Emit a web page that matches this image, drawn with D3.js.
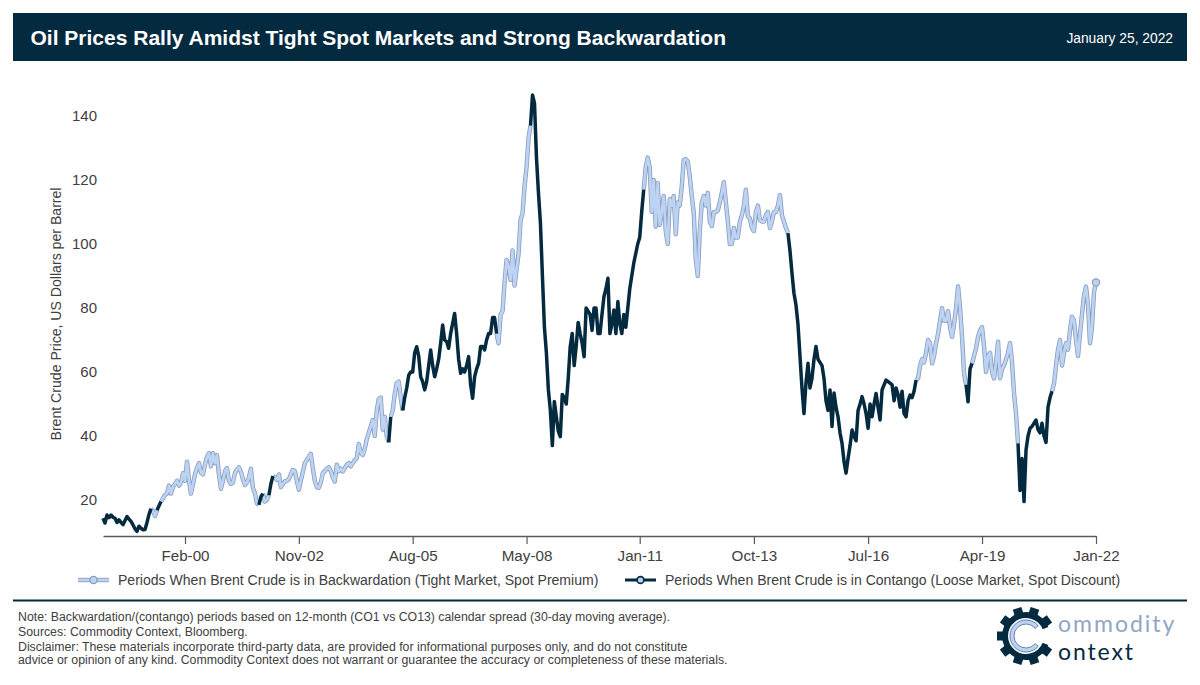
<!DOCTYPE html>
<html>
<head>
<meta charset="utf-8">
<script src="https://d3js.org/d3.v7.min.js"></script>
<style>
  body { margin: 0; background: #fff; }
  text { font-family: "Liberation Sans", Arial, sans-serif; }
</style>
</head>
<body>
<svg class="target" width="1200" height="685"></svg>
<script>

// tick labels and the dates they sit on
tickLabels = ['Feb-00', 'Nov-02', 'Aug-05', 'May-08', 'Jan-11', 'Oct-13', 'Jul-16', 'Apr-19', 'Jan-22']
tickDates = ['2000-02-20', '2002-11-17', '2005-08-14', '2008-05-11', '2011-01-31', '2013-10-31', '2016-07-31', '2019-04-29', '2022-01-25']
startDate = '1998-03-01'
yTicks = [20, 40, 60, 80, 100, 120, 140]

// Brent price, one array per span between x ticks
beforeFeb00 = [14.3,12.8,15.3,14.5,15.3,14.6,14.3,13,13.8,13,12.3,13.6,14.8,14,13.3,12.2,11,10.2,11.8,11.2,10.7,10.8,13,15.5,17.3,16.5,15,16.8,18.2,19.5,20.5,21.6,22,24.5,22,24.2,25,26,24.5,25.5,28.4]
fromFeb00 = [26,32,26,22,25,28,30,31.5,28.5,28,31,33.5,34.6,30.5,34.6,31.5,34,28,23.5,26,29,30,26,25,25.5,28.4,29.5,30.2,28.8,26.5,24.7,25.5,27,29.8,23.7,22.2,19,18.5,21,22,19.5,20,21.5,25,27.5,27,26.3,28,24,25,25.8,26,26.5,28,29.4,29,26]
fromNov02 = [23.2,26,28.8,31.5,32.5,33.5,34.4,30,26,24,23.8,25.5,28.4,29,29.8,30.2,29,27,25.8,31,29,29.8,28.9,30,31,31.5,30.5,31.5,32.5,33,37.5,35,34,36,39,41,43,45,40,48,51.5,52,42,46,40,38,46,48,53,56.5,57,52,48,52,55,59,60]
fromAug05 = [60,66,67.9,65,58.5,57,54.4,57,62,66.9,62,58.5,61,64,69,74.7,70,69.5,67.4,72,75.2,78.3,72,64,59.6,61,60,62,64.8,56,51.8,58.5,61,62.7,68,68,66.9,70,72,72,77,77,72,69,78,79,88,95,93,88.8,98,87,92,97,107.5,109.6,118]
fromMay08 = [124,133,137,146.6,144,127,116,106.5,90,74,66,54.4,48,37,50.8,46,41.5,39.8,53,52,50,58,68,72,62,68,75.5,72,69,64.8,80,79,78,73,80,80,72,72,78,83.6,86,89.3,72,75,79.4,72,82,75,72,78,74,80,86,90,94,97,100]
fromJan11 = [102,110,117,124,127,124,110,120,105.4,119,106,110,115,104,100,114,112,115,103,113,112,118,126.3,126.5,125.8,121,115,109.6,95,90,104,113,115,112,116,107,105.6,110,110,110.5,113,116,119.3,113,107,100,100,105,102,102,107,109,112,117,108.6,108,105]
fromOct13 = [104,110,112,107.5,107,107,109,110,105,107,110,110,112,115.3,109,107,105,103.4,98,91,84.6,81,75,65,55,47,56.5,62.7,55,58,64,68,64,63,62,58,51,48,54.4,43,53.4,49,46,41,37.7,32,28.4,33,37,41.9,40,38.5,48,50,52.3,50,47]
fromJul16 = [42.4,50,46,50,53.3,49,45,54.4,56,57.5,57,56.5,56,51,55,53,49,54,47,46,51,52.8,52,54,57.5,58,62,64,63,66,70,69,62.7,65,69,72,76,79.9,76,76,79,74,71,75,80,86.7,80,71,59.6,56,50.7,61,62.7,65,67.4,71,73]
fromApr19 = [74,68,60,65,66,60,58,63,69.5,58,61,62,64,66,69,63,53.3,47,37.7,23,33,19.5,35.6,40,42.4,43,44,45,42,41,44,40,38,49,52,54,56.5,62,67,70,62,66,69,67,73,77.3,76,70,65,72,78,84,86.7,81,69,74,85]
lastPrice = 88

// contango periods, everything else is backwardation
contangoStart = ['1998-03-01', '1999-06-28', '2001-12-02', '2002-03-01', '2005-01-18', '2005-05-28', '2008-06-15', '2014-09-08', '2018-12-17', '2020-03-20']
contangoEnd   = ['1999-04-30', '1999-08-04', '2002-01-17', '2002-04-05', '2005-02-12', '2007-08-22', '2011-03-24', '2017-10-05', '2019-02-09', '2021-01-04']

legendLabels = ['Periods When Brent Crude is in Backwardation (Tight Market, Spot Premium)', 'Periods When Brent Crude is in Contango (Loose Market, Spot Discount)']
notes = [
  'Note: Backwardation/(contango) periods based on 12-month (CO1 vs CO13) calendar spread (30-day moving average).',
  'Sources: Commodity Context, Bloomberg.',
  'Disclaimer: These materials incorporate third-party data, are provided for informational purposes only, and do not constitute',
  'advice or opinion of any kind. Commodity Context does not warrant or guarantee the accuracy or completeness of these materials.'
]

navy = '#042a3f'
lightBlue = '#bcd3f4'
edgeBlue = '#8a9cba'
textGrey = '#404040'

parse = d3.timeParse('%Y-%m-%d')
edges = [startDate, ...tickDates].map(parse)
spans = [beforeFeb00, fromFeb00, fromNov02, fromAug05, fromMay08, fromJan11, fromOct13, fromJul16, fromApr19]

// spread each span's values evenly between its two ticks
rows = spans.flatMap((vals, k) => vals.map((v, i) => ({
  date: new Date(+edges[k] + (edges[k + 1] - edges[k]) * i / vals.length),
  price: v
})))
rows.push({ date: edges[edges.length - 1], price: lastPrice })

periods = contangoStart.map((s, i) => [parse(s), parse(contangoEnd[i])])
rows.forEach(d => d.contango = periods.some(p => d.date >= p[0] && d.date <= p[1]))

// cut into runs of one state, neighbours share a point so the line stays joined
runs = []
rows.forEach((d, i) => {
  if (i == 0 || d.contango != rows[i - 1].contango) {
    runs.push({ contango: d.contango, points: i == 0 ? [d] : [rows[i - 1], d] })
  } else {
    runs[runs.length - 1].points.push(d)
  }
})

svg = d3.select('.target')

x = d3.scaleTime().domain([edges[0], edges[edges.length - 1]]).range([103, 1096])
y = d3.scaleLinear().domain([8.75, 146.25]).range([536, 96])

line = d3.line().x(d => x(d.date)).y(d => y(d.price))

// header
svg.append('rect').attr('x', 13).attr('y', 13).attr('width', 1174).attr('height', 48).attr('fill', navy)
svg.append('text').attr('x', 30.5).attr('y', 45).attr('fill', '#fff')
  .style('font-size', '21px').style('font-weight', 'bold')
  .text('Oil Prices Rally Amidst Tight Spot Markets and Strong Backwardation')
svg.append('text').attr('x', 1173).attr('y', 43).attr('fill', '#fff').attr('text-anchor', 'end')
  .style('font-size', '13.8px').text('January 25, 2022')

// axes
xAxis = svg.append('g').attr('transform', 'translate(0,536)')
  .call(d3.axisBottom(x).tickValues(tickDates.map(parse)).tickFormat((d, i) => tickLabels[i]).tickSizeInner(8).tickSizeOuter(0).tickPadding(6))
xAxis.select('.domain').attr('stroke', '#595959').attr('stroke-width', 1.5)
xAxis.selectAll('line').attr('stroke', '#595959').attr('stroke-width', 1.2)
xAxis.selectAll('text').attr('fill', textGrey).style('font-size', '15.2px')

yAxis = svg.append('g').attr('transform', 'translate(103,0)')
  .call(d3.axisLeft(y).tickValues(yTicks).tickSize(0).tickPadding(6))
yAxis.select('.domain').remove()
yAxis.selectAll('text').attr('fill', textGrey).style('font-size', '15px')

svg.append('text').attr('transform', 'translate(61,314) rotate(-90)').attr('text-anchor', 'middle')
  .attr('fill', textGrey).style('font-size', '14.1px').text('Brent Crude Price, US Dollars per Barrel')

// price line, backwardation first so contango sits on top
drawBack = (sel, d) => {
  sel.append('path').attr('d', d).attr('fill', 'none').attr('stroke', edgeBlue).attr('stroke-width', 4.4).attr('stroke-linejoin', 'round')
  sel.append('path').attr('d', d).attr('fill', 'none').attr('stroke', lightBlue).attr('stroke-width', 2.8).attr('stroke-linejoin', 'round')
}
plot = svg.append('g')
runs.filter(r => !r.contango).forEach(r => drawBack(plot, line(r.points)))
runs.filter(r => r.contango).forEach(r => {
  plot.append('path').attr('d', line(r.points)).attr('fill', 'none').attr('stroke', navy).attr('stroke-width', 3.5).attr('stroke-linejoin', 'round')
})
last = rows[rows.length - 1]
plot.append('circle').attr('cx', x(last.date)).attr('cy', y(last.price)).attr('r', 3.6)
  .attr('fill', lightBlue).attr('stroke', edgeBlue).attr('stroke-width', 1.2)

// legend
legend = svg.append('g').attr('transform', 'translate(0,580)')
drawBack(legend, 'M78,0H109')
legend.append('circle').attr('cx', 93.5).attr('r', 3.6).attr('fill', lightBlue).attr('stroke', edgeBlue).attr('stroke-width', 1.2)
legend.append('text').attr('x', 118).attr('y', 5).attr('fill', textGrey).style('font-size', '14.05px').text(legendLabels[0])
legend.append('path').attr('d', 'M625,0H656').attr('stroke', navy).attr('stroke-width', 3)
legend.append('circle').attr('cx', 640.5).attr('r', 3.4).attr('fill', lightBlue).attr('stroke', navy).attr('stroke-width', 1.6)
legend.append('text').attr('x', 665).attr('y', 5).attr('fill', textGrey).style('font-size', '14.05px').text(legendLabels[1])

// footer
svg.append('line').attr('x1', 13).attr('x2', 1187).attr('y1', 600.5).attr('y2', 600.5).attr('stroke', navy).attr('stroke-width', 2)
svg.selectAll('.note').data(notes).join('text').attr('class', 'note')
  .attr('x', 18).attr('y', (d, i) => [621, 636, 651, 664][i]).attr('fill', textGrey)
  .style('font-size', '12.3px').text(d => d)

// logo: gear with a gap on the right, a C inside, then the words
logo = svg.append('g').attr('transform', 'translate(1026,636)')
toRad = Math.PI / 180
d3.range(10).forEach(i => {
  a = 18 + i * 36
  if (a == 90) return
  logo.append('rect').attr('x', -4.5).attr('y', -29).attr('width', 9).attr('height', 9).attr('fill', navy).attr('transform', `rotate(${a})`)
})
logo.append('path').attr('fill', navy)
  .attr('d', d3.arc().innerRadius(18).outerRadius(24).startAngle(112 * toRad).endAngle(428 * toRad)())
logo.append('path').attr('fill', lightBlue).attr('stroke', '#5f83ad').attr('stroke-width', 1)
  .attr('d', d3.arc().innerRadius(12).outerRadius(16).startAngle(130 * toRad).endAngle(410 * toRad)())
svg.append('text').attr('x', 1058).attr('y', 632).attr('fill', '#8fa6c6')
  .style('font-family', 'Lato, sans-serif').style('font-size', '23px').style('letter-spacing', '2px').text('ommodity')
svg.append('text').attr('x', 1058).attr('y', 660).attr('fill', navy)
  .style('font-family', 'Lato, sans-serif').style('font-size', '23px').style('letter-spacing', '1.9px').text('ontext')

</script>
</body>
</html>
